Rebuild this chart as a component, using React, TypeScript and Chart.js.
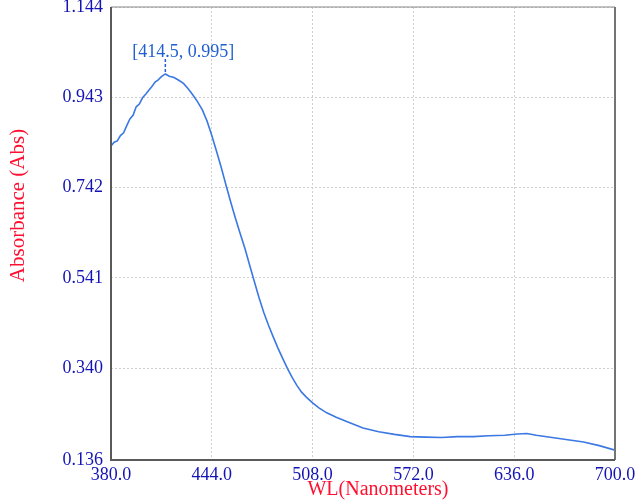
import React, { useEffect, useRef } from "react";
import { Chart, registerables } from "chart.js";

Chart.register(...registerables);

const wavelengths = [
  380, 382, 384, 386, 388, 390, 392, 394, 396, 398, 400, 402, 404, 406, 408, 410, 412, 414.5,
  417, 420, 423, 426, 429, 432, 435, 438, 441, 444, 447, 450, 453, 456, 459, 462, 465, 468,
  471, 474, 477, 480, 483, 486, 489, 492, 495, 498, 501, 504, 508, 512, 517, 523, 530, 540,
  550, 560, 570, 580, 590, 600, 610, 620, 630, 638, 644, 650, 660, 670, 680, 690, 700,
];
const absorbance = [
  0.835, 0.843, 0.846, 0.858, 0.864, 0.880, 0.895, 0.903, 0.922, 0.928, 0.942, 0.950, 0.959,
  0.967, 0.977, 0.982, 0.989, 0.995, 0.990, 0.987, 0.981, 0.974, 0.962, 0.948, 0.933, 0.915,
  0.890, 0.858, 0.823, 0.787, 0.748, 0.710, 0.674, 0.640, 0.607, 0.570, 0.533, 0.497, 0.464,
  0.436, 0.410, 0.385, 0.362, 0.340, 0.320, 0.302, 0.287, 0.276, 0.263, 0.252, 0.241, 0.231,
  0.221, 0.207, 0.199, 0.193, 0.188, 0.187, 0.186, 0.188, 0.188, 0.190, 0.191, 0.194, 0.195,
  0.191, 0.186, 0.181, 0.176, 0.168, 0.158,
];
const yTicks = [0.136, 0.34, 0.541, 0.742, 0.943, 1.144];
const xTicks = [380, 444, 508, 572, 636, 700];
const peak = { x: 414.5, y: 0.995, label: "[414.5, 0.995]" };
const xTitle = "WL(Nanometers)";
const yTitle = "Absorbance (Abs)";

const FONT = "'Liberation Serif', 'Times New Roman', serif";
const TICK_COLOR = "#1414b4";
const TITLE_COLOR = "#ff1030";

export default function App() {
  const ref = useRef<HTMLCanvasElement | null>(null);
  useEffect(() => {
    document.body.style.margin = "0";
    const canvas = ref.current;
    if (!canvas) return;
    const overlay = {
      id: "overlay",
      afterDraw(chart: any) {
        const { ctx, chartArea: a, scales } = chart;
        ctx.save();
        ctx.strokeStyle = "#8a8a8a";
        ctx.lineWidth = 1.2;
        ctx.beginPath();
        ctx.moveTo(a.left, a.top);
        ctx.lineTo(a.right, a.top);
        ctx.stroke();
        ctx.strokeStyle = "#747474";
        ctx.lineWidth = 2;
        ctx.beginPath();
        ctx.moveTo(a.right, a.top);
        ctx.lineTo(a.right, a.bottom);
        ctx.stroke();
        ctx.strokeStyle = "#5a5a5a";
        ctx.lineWidth = 2;
        ctx.beginPath();
        ctx.moveTo(a.left, a.top);
        ctx.lineTo(a.left, a.bottom);
        ctx.lineTo(a.right, a.bottom);
        ctx.stroke();
        const px = scales.x.getPixelForValue(peak.x);
        const py = scales.y.getPixelForValue(peak.y);
        ctx.strokeStyle = "#1f5fd0";
        ctx.lineWidth = 1.5;
        ctx.setLineDash([3, 2]);
        ctx.beginPath();
        ctx.moveTo(px, py - 15);
        ctx.lineTo(px, py);
        ctx.stroke();
        ctx.setLineDash([]);
        ctx.fillStyle = "#1f5fd0";
        ctx.font = `18px ${FONT}`;
        ctx.textAlign = "center";
        ctx.textBaseline = "middle";
        ctx.fillText(peak.label, px + 18, py - 22);
        ctx.fillStyle = TITLE_COLOR;
        ctx.font = `20px ${FONT}`;
        ctx.fillText(xTitle, (a.left + a.right) / 2 + 15, 490);
        ctx.translate(18, (a.top + a.bottom) / 2 - 28);
        ctx.rotate(-Math.PI / 2);
        ctx.font = `21px ${FONT}`;
        ctx.fillText(yTitle, 0, 0);
        ctx.restore();
      },
    };
    const chart = new Chart(canvas, {
      type: "line",
      data: {
        datasets: [
          {
            data: wavelengths.map((w, i) => ({ x: w, y: absorbance[i] })),
            borderColor: "#3b78e2",
            borderWidth: 1.6,
            pointRadius: 0,
            tension: 0,
            fill: false,
          },
        ],
      },
      options: {
        animation: false,
        responsive: false,
        maintainAspectRatio: false,
        layout: { padding: { left: 0, right: 25, top: 7, bottom: 0 } },
        plugins: { legend: { display: false }, tooltip: { enabled: false } },
        scales: {
          x: {
            type: "linear",
            min: 380,
            max: 700,
            afterBuildTicks: (s: any) => {
              s.ticks = xTicks.map((v) => ({ value: v }));
            },
            afterFit: (s: any) => {
              s.height = 43;
              s.paddingLeft = 0;
              s.paddingRight = 0;
            },
            grid: { color: "#cfcfcf", lineWidth: 1, drawTicks: false } as any,
            border: { display: false, dash: [2, 2] } as any,
            ticks: {
              color: TICK_COLOR,
              font: { family: FONT, size: 18 },
              padding: 4,
              maxRotation: 0,
              autoSkip: false,
              callback: (v: any) => Number(v).toFixed(1),
            },
          },
          y: {
            type: "linear",
            min: 0.136,
            max: 1.144,
            afterBuildTicks: (s: any) => {
              s.ticks = yTicks.map((v) => ({ value: v }));
            },
            afterFit: (s: any) => {
              s.width = 111;
              s.paddingTop = 0;
              s.paddingBottom = 0;
            },
            grid: { color: "#cfcfcf", lineWidth: 1, drawTicks: false } as any,
            border: { display: false, dash: [2, 2] } as any,
            ticks: {
              color: TICK_COLOR,
              font: { family: FONT, size: 18 },
              padding: 8,
              autoSkip: false,
              callback: (v: any) => Number(v).toFixed(3),
            },
          },
        },
      },
      plugins: [overlay],
    });
    return () => chart.destroy();
  }, []);
  return (
    <div style={{ position: "absolute", left: 0, top: 0, width: 640, height: 503, background: "#fff" }}>
      <canvas ref={ref} width={640} height={503} style={{ width: 640, height: 503 }} />
    </div>
  );
}
